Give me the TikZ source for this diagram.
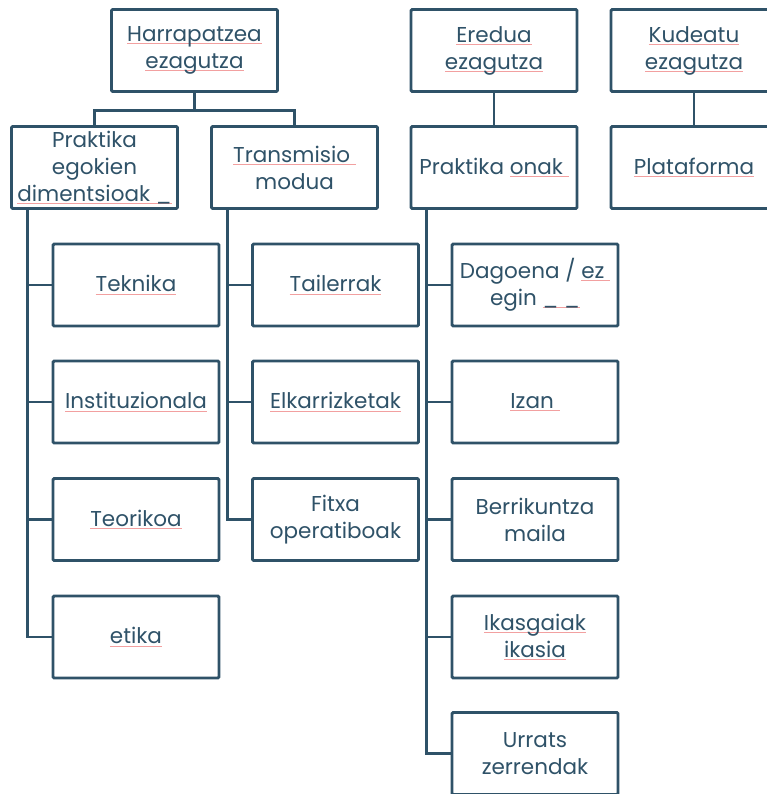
\documentclass[tikz,border=0pt]{standalone}
\usepackage{fontspec}
\setmainfont{Poppins}
\definecolor{ink}{HTML}{2F5268}
\definecolor{sqc}{HTML}{F2A0A0}
\newsavebox\splbox
\newcommand\spl[1]{\sbox\splbox{#1}\rlap{\color{sqc}\rule[-2.5pt]{\wd\splbox}{0.9pt}}\usebox\splbox}
\begin{document}
\begin{tikzpicture}[x=1pt,y=-1pt,
  box/.style={draw=ink, line width=2.9pt, rounded corners=1.2pt, minimum width=166pt, minimum height=82pt, inner sep=0pt, align=center, text=ink, font=\fontsize{21.5}{27}\selectfont},
  link/.style={draw=ink, line width=2.9pt}]
\useasboundingbox (0,0) rectangle (767,794);
\clip (0,0) rectangle (767,794);
% top level
\node[box] (h) at (194.5,50.5) {\spl{Harrapatzea}\\\spl{ezagutza}};
\node[box] (e) at (494,50.5) {\spl{Eredua}\\\spl{ezagutza}};
\node[box] (k) at (694,50.5) {\spl{Kudeatu}\\\spl{ezagutza}};
% second level
\node[box] (pe) at (94.5,167.5) {Praktika\\egokien\\\spl{dimentsioak \_}};
\node[box] (tm) at (294.5,167.5) {\spl{Transmisio\ }\\modua};
\node[box] (po) at (494,167.5) {Praktika \spl{onak\ }};
\node[box] (pl) at (694,167.5) {\spl{Plataforma}};
% left column
\node[box] (tek) at (136,285) {\spl{Teknika}};
\node[box] (ins) at (136,402) {\spl{Instituzionala}};
\node[box] (teo) at (136,519.5) {\spl{Teorikoa}};
\node[box] (eti) at (136,637) {\spl{etika}};
% middle column
\node[box] (tai) at (335.5,285) {\spl{Tailerrak}};
\node[box] (elk) at (335.5,402) {\spl{Elkarrizketak}};
\node[box] (fit) at (335.5,519.5) {Fitxa\\operatiboak};
% right column
\node[box] (dag) at (535,285) {Dagoena / \spl{ez\ }\\egin \spl{\_ \_}};
\node[box] (iza) at (535,402) {\spl{Izan\ }};
\node[box] (ber) at (535,519.5) {Berrikuntza\\maila};
\node[box] (ika) at (535,637) {\spl{Ikasgaiak}\\\spl{ikasia}};
\node[box] (urr) at (535,753.5) {Urrats\\zerrendak};
% connectors
\draw[link] (h.south) -- ++(0,17.5) coordinate (hj);
\draw[link] (pe.north) |- (hj) -| (tm.north);
\draw[link] (e.south) -- (po.north);
\draw[link] (k.south) -- (pl.north);
\coordinate (pec) at ([xshift=17pt]pe.south west);
\coordinate (tmc) at ([xshift=17pt]tm.south west);
\coordinate (poc) at ([xshift=17pt]po.south west);
\foreach \c in {tek,ins,teo,eti} \draw[link] (pec) |- (\c.west);
\foreach \c in {tai,elk,fit} \draw[link] (tmc) |- (\c.west);
\foreach \c in {dag,iza,ber,ika,urr} \draw[link] (poc) |- (\c.west);
\end{tikzpicture}
\end{document}
